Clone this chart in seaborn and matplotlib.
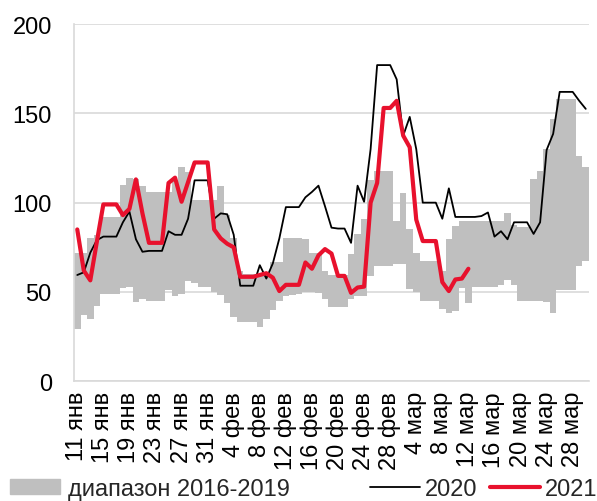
import numpy as np
import pandas as pd
import matplotlib
matplotlib.use("Agg")
import matplotlib.pyplot as plt
import seaborn as sns
from matplotlib.patches import Patch
from matplotlib.lines import Line2D

# days 11 Jan .. 30 Mar, labels every 4th day
days = pd.date_range("2021-01-11", "2021-03-30")
month_names = {1: "янв", 2: "фев", 3: "мар"}
day_labels = [f"{d.day} {month_names[d.month]}" for d in days]

# range 2016-2019 (upper and lower edge of the grey band)
range_hi = [72, 72, 80, 82, 92, 92, 92, 110, 114, 113, 109.5, 106, 106, 106, 106, 112, 120, 117,
            101.5, 101.5, 101.5, 101.5, 109.5, 93, 80, 62, 60, 60, 60, 60, 66.5, 66.5, 80, 80, 80,
            79.5, 72, 72, 62, 59.5, 59.5, 59.5, 71.5, 82.5, 91, 112.5, 117.5, 117.5, 117.5, 90, 105.5,
            85.5, 72, 67.5, 67.5, 67.5, 62, 79.5, 87, 89.5, 89.5, 90, 90, 90, 90, 90, 94, 87.5, 86.5,
            86.5, 113, 117.5, 130, 147, 158, 158, 158, 126, 120]
range_lo = [29.5, 37, 35, 42, 49, 49, 49, 52.5, 53, 44.5, 46, 45, 45, 45, 51, 48, 49, 56, 55, 53, 53,
            50, 48.5, 44, 36, 33, 33, 33, 30.5, 35, 40, 45, 48, 48.5, 49, 50, 50, 49.5, 46, 41.5, 41.5,
            41.5, 46, 48, 48, 59, 64.5, 64.5, 64.5, 65.5, 65.5, 51.5, 50, 45, 45, 45, 40.5, 38, 39.5, 52,
            44, 53, 53, 53, 53, 54, 56.5, 54, 45, 45, 45, 45, 44.5, 38.5, 51, 51, 51, 64.5, 67.5]

y2020 = [59.5, 61, 72, 79, 81, 81, 81, 89, 95, 79.5, 72.5, 73, 73, 73, 84, 82, 82, 91, 112.5, 112.5,
         112.5, 91, 94, 93.5, 82, 53.5, 53.5, 53.5, 65, 57.5, 66, 80, 97.5, 97.5, 97.5, 103, 106, 109.5,
         98, 86, 85.5, 85.5, 77.5, 109.5, 100.5, 130, 177, 177, 177, 169, 137.5, 148, 130, 100, 100, 100,
         91, 108, 92, 92, 92, 92, 92.5, 94.5, 81, 84, 79.5, 89, 89, 89, 82.5, 89, 129.5, 138.5, 162, 162,
         162, 157, 152.5]

y2021 = [85, 62, 56.5, 78, 99, 99, 99, 93, 96.5, 113, 94, 77.5, 77.5, 77.5, 111, 114, 100.5, 111.5,
         122.5, 122.5, 122.5, 85, 80, 77, 75, 58.5, 58.5, 58.5, 59.5, 60.5, 58, 50.5, 54, 54, 54, 66.5,
         63, 70.5, 74, 71.5, 59, 59, 49.5, 52.5, 53, 100, 111, 153, 153, 157, 137.5, 131, 90.5, 78.5,
         78.5, 78.5, 55.5, 50.5, 57, 57.5, 63]

grey = "#bfbfbf"
red = "#e8112d"
grid = "#d9d9d9"

sns.set_style("white")
plt.rcParams["font.family"] = ["Liberation Sans", "DejaVu Sans"]

fig = plt.figure(figsize=(5.97, 5.02), dpi=100)
ax = fig.add_axes([74 / 597, (502 - 382.3) / 502, 515 / 597, (382.3 - 25) / 502])

band = pd.DataFrame({"day": day_labels,
                     "height": np.array(range_hi) - np.array(range_lo)})
sns.barplot(data=band, x="day", y="height", order=day_labels, color=grey,
            width=1.0, linewidth=0, errorbar=None, bottom=np.array(range_lo),
            saturation=1, ax=ax)

sns.lineplot(x=np.arange(len(y2020)), y=y2020, color="black", linewidth=1.3, ax=ax, legend=False)
sns.lineplot(x=np.arange(len(y2021)), y=y2021, color=red, linewidth=3, ax=ax, legend=False)

ax.set_ylim(0, 200)
ax.set_xlim(-0.5, len(day_labels) - 0.5)
ax.set_yticks([0, 50, 100, 150, 200])
ax.set_xticks(range(0, len(day_labels), 4))
ax.set_xticklabels(day_labels[::4], rotation=90)
ax.tick_params(axis="both", length=0, labelsize=17, colors="black")
ax.tick_params(axis="y", pad=16)
ax.tick_params(axis="x", pad=7)
ax.set_xlabel("")
ax.set_ylabel("")
ax.yaxis.grid(True, color=grid, linewidth=1.2)
ax.set_axisbelow(True)
for s in ["top", "right"]:
    ax.spines[s].set_visible(False)
for s in ["left", "bottom"]:
    ax.spines[s].set_color(grid)
    ax.spines[s].set_linewidth(1.2)

fig.legend(handles=[Patch(color=grey, label="диапазон 2016-2019")],
           loc="center left", bbox_to_anchor=(10 / 597, 12 / 502), frameon=False,
           fontsize=17, handlelength=2.1, handleheight=0.6, handletextpad=0.35,
           borderpad=0, borderaxespad=0)
fig.legend(handles=[Line2D([], [], color="black", linewidth=1.3, label="2020"),
                    Line2D([], [], color=red, linewidth=3, label="2021")],
           loc="center right", bbox_to_anchor=(1.0, 12 / 502), frameon=False, ncol=2,
           fontsize=17, handlelength=2.1, handletextpad=0.2, columnspacing=0.55,
           borderpad=0, borderaxespad=0)

fig.savefig("out.png", dpi=100)
